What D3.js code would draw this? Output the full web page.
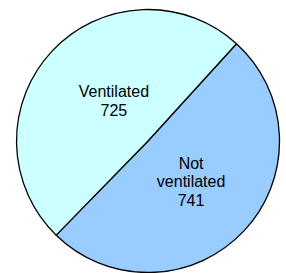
<!DOCTYPE html>
<html>
<head>
<meta charset="utf-8">
<script src="https://cdn.jsdelivr.net/npm/d3@7"></script>
<style>
  html, body { margin: 0; padding: 0; background: #fff; }
  svg { display: block; }
</style>
</head>
<body>
<svg id="chart" width="286" height="273"></svg>
<script>
// chart data
var categories = ['Not ventilated', 'Ventilated'];
var labelLines = [['Not', 'ventilated', '741'], ['Ventilated', '725']];
var values = [741, 725];
var colors = ['#99ccff', '#ccffff'];

var svg = d3.select('#chart'),
    cx = 148,
    cy = 141,
    radius = 131.5;

// first slice starts a bit past 12 o'clock, like the original
var pie = d3.pie()
    .sort(null)
    .startAngle(42.3 * Math.PI / 180)
    .endAngle((42.3 + 360) * Math.PI / 180);

var arc = d3.arc().innerRadius(0).outerRadius(radius);

var g = svg.append('g').attr('transform', 'translate(' + cx + ',' + cy + ')');

var slices = pie(values);

g.selectAll('path.slice')
  .data(slices)
  .enter().append('path')
  .attr('class', 'slice')
  .attr('d', arc)
  .attr('fill', function(d, i) { return colors[i]; })
  .attr('stroke', '#000')
  .attr('stroke-width', 1.3)
  .attr('stroke-linejoin', 'round');

// Excel doesn't put the labels exactly on the centroid, so nudge them
// (radius as a fraction, angle shift in degrees)
var labelRadius = [0.45, 0.40],
    labelShift = [0, 6.3],
    lineHeight = 18.5;

slices.forEach(function(d, i) {
  var r = radius * labelRadius[i],
      shift = labelShift[i] * Math.PI / 180,
      c = d3.arc().innerRadius(r).outerRadius(r)
            .centroid({ startAngle: d.startAngle + shift, endAngle: d.endAngle + shift }),
      lines = labelLines[i],
      top = c[1] - (lines.length - 1) * lineHeight / 2;

  var text = g.append('text')
    .attr('text-anchor', 'middle')
    .attr('font-family', 'Arial, "Liberation Sans", sans-serif')
    .attr('font-size', '16px')
    .attr('fill', '#000');

  lines.forEach(function(line, j) {
    text.append('tspan')
      .attr('x', c[0])
      .attr('y', top + j * lineHeight)
      .attr('dy', '0.35em')
      .text(line);
  });
});
</script>
</body>
</html>
